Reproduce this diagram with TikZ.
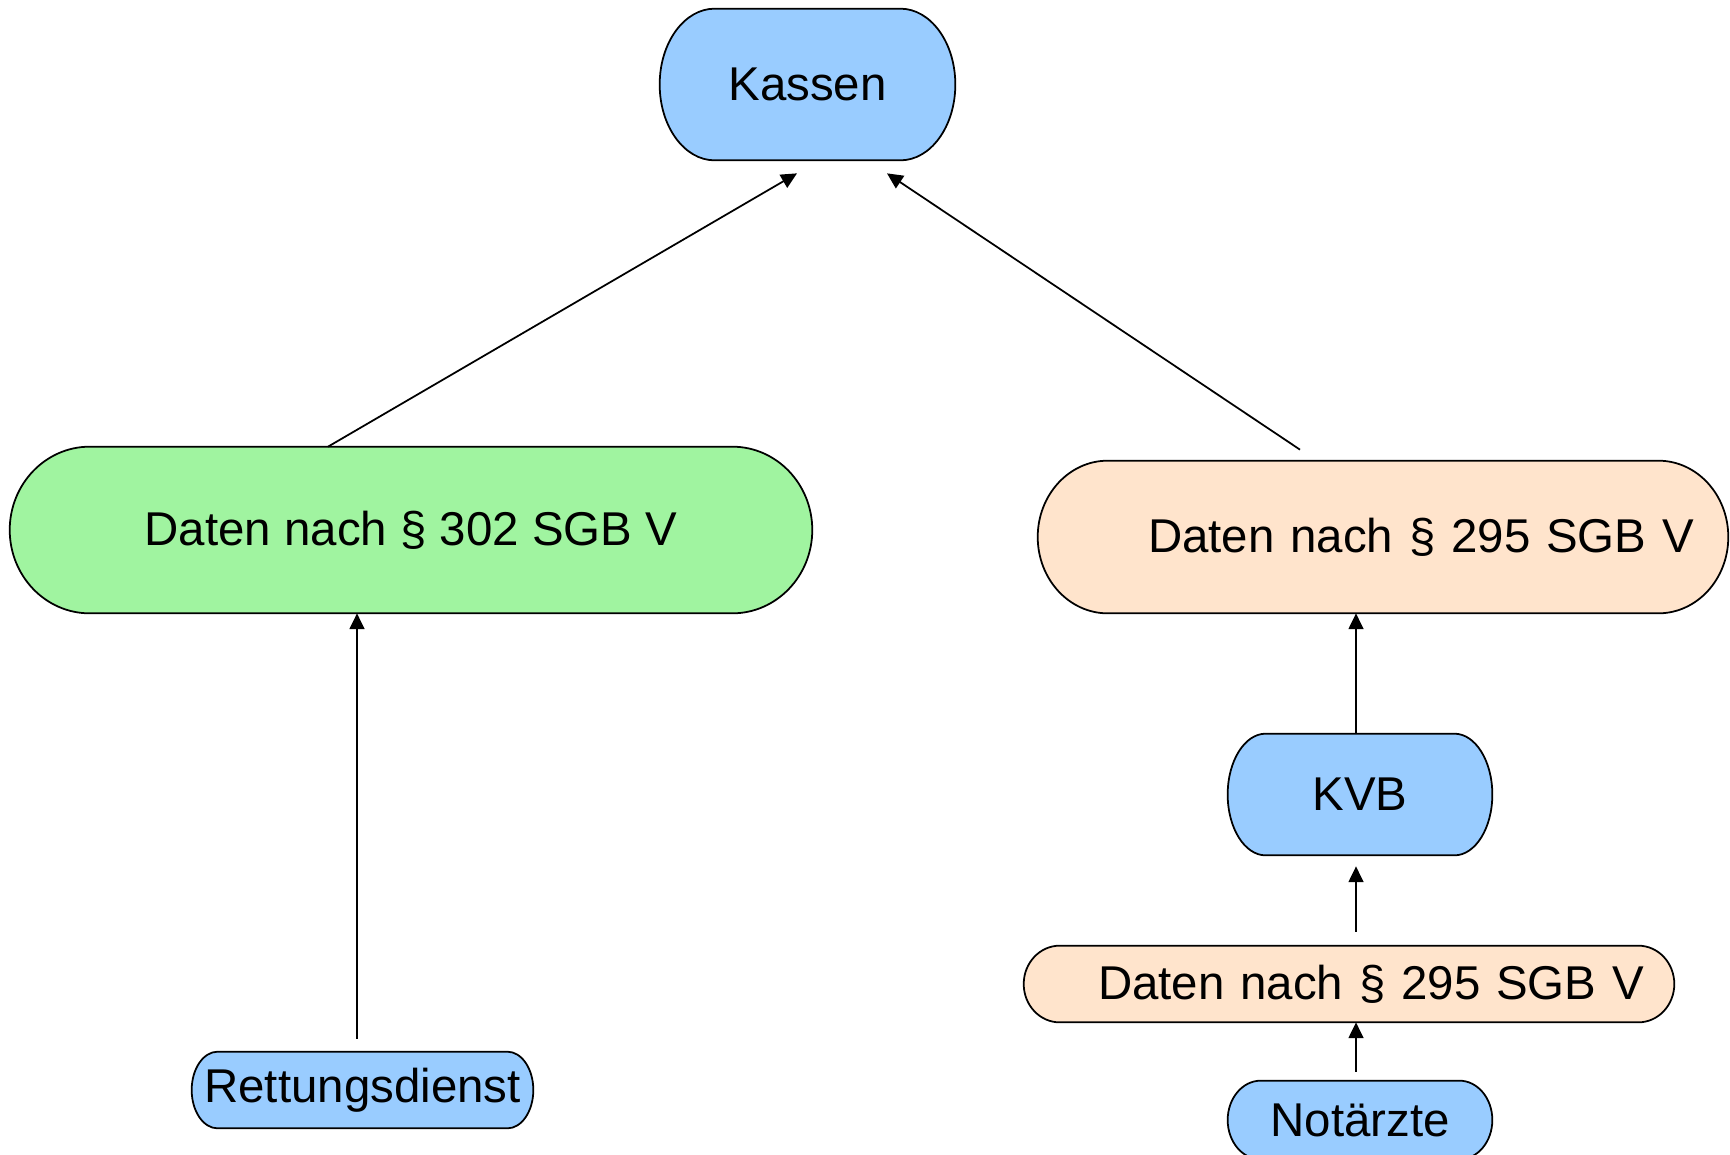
\documentclass[tikz,border=0pt]{standalone}
\usepackage{fontspec}
\setmainfont{Liberation Sans}
\usetikzlibrary{arrows.meta,backgrounds,calc}

\definecolor{kasseblue}{RGB}{153,204,255}
\definecolor{datengreen}{RGB}{160,244,160}
\definecolor{datenpeach}{RGB}{255,228,204}

\tikzset{
  box/.style={inner sep=0pt, font=\fontsize{27}{32}\selectfont},
  arr/.style={line width=1pt, -{Triangle[length=9pt,width=8.5pt]}},
}

% outline of a terminator box, drawn behind the node
% #1 node, #2 x radius of the ends, #3 fill colour
\newcommand\termpath[3]{%
  \path[draw, line width=1pt, fill=#3]
    let \p1=(#1.north west), \p2=(#1.south east), \n1={(\y1-\y2)/2} in
    (\x1+#2,\y1) -- (\x2-#2,\y1)
    arc[start angle=90, end angle=-90, x radius=#2, y radius=\n1]
    -- (\x1+#2,\y2)
    arc[start angle=-90, end angle=-270, x radius=#2, y radius=\n1] -- cycle;}

\begin{document}
\begin{tikzpicture}[x=0.02cm,y=0.02cm]
  \useasboundingbox (0,0) rectangle (1730,-1154);

  % cut off text from above
  \node[box, anchor=base] (Quote) at (277,-21) {”};

  % the boxes
  \node[box, minimum width=5.9cm, minimum height=3.02cm] (Kassen) at (807.5,-84.5) {Kassen};
  \node[box, minimum width=16.04cm, minimum height=3.32cm] (Daten302) at (411,-530) {Daten nach § 302 SGB V};
  \node[box, inner xsep=0.68cm, text width=12.44cm, align=right, minimum height=3.04cm] (Daten295) at (1383,-537) {Daten nach § 295 SGB V};
  \node[box, minimum width=5.28cm, minimum height=2.42cm] (KVB) at (1360,-794.5) {KVB};
  \node[box, inner xsep=0.6cm, text width=11.8cm, align=right, minimum height=1.52cm] (Daten295b) at (1349,-984) {Daten nach § 295 SGB V};
  \node[box, minimum width=5.28cm, minimum height=1.56cm] (Notaerzte) at (1360,-1120) {Notärzte};
  \node[box, minimum width=6.82cm, minimum height=1.52cm] (Rettung) at (362.5,-1090) {Rettungsdienst};

  \begin{scope}[on background layer]
    \termpath{Kassen}{1.1cm}{kasseblue}
    \termpath{Daten302}{1.6cm}{datengreen}
    \termpath{Daten295}{1.4cm}{datenpeach}
    \termpath{KVB}{0.76cm}{kasseblue}
    \termpath{Daten295b}{0.72cm}{datenpeach}
    \termpath{Notaerzte}{0.66cm}{kasseblue}
    \termpath{Rettung}{0.52cm}{kasseblue}
  \end{scope}

  % arrows
  \draw[arr] ([xshift=-1.66cm]Daten302.north) -- ([xshift=-0.21cm,yshift=-0.26cm]Kassen.south);
  \draw[arr] ([xshift=-1.66cm,yshift=0.22cm]Daten295.north) -- ([xshift=1.59cm,yshift=-0.26cm]Kassen.south);
  \coordinate (RetTop) at ([xshift=-0.11cm,yshift=0.26cm]Rettung.north);
  \draw[arr] (RetTop) -- (RetTop |- Daten302.south);
  \coordinate (KVBTop) at ([xshift=-0.08cm]KVB.north);
  \draw[arr] (KVBTop) -- (KVBTop |- Daten295.south);
  \coordinate (DatTop) at ([xshift=-0.08cm,yshift=0.28cm]Daten295b.north -| KVB.north);
  \draw[arr] (DatTop) -- ([xshift=-0.08cm,yshift=-0.22cm]KVB.south);
  \coordinate (NotTop) at ([xshift=-0.08cm,yshift=0.18cm]Notaerzte.north);
  \draw[arr] (NotTop) -- (NotTop |- Daten295b.south);
\end{tikzpicture}
\end{document}
